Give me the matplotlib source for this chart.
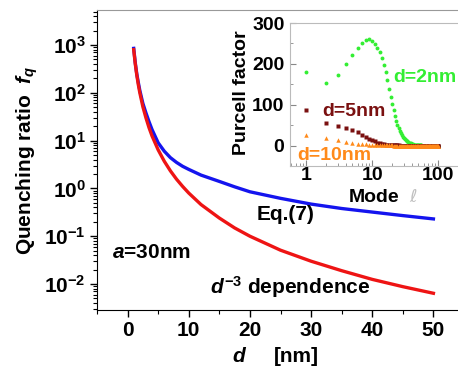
import matplotlib
matplotlib.use("Agg")
import matplotlib.pyplot as plt
from matplotlib.ticker import MultipleLocator, LogLocator, NullFormatter

plt.rcParams['font.family'] = ['Liberation Sans', 'DejaVu Sans']
plt.rcParams['font.weight'] = 'bold'
plt.rcParams['mathtext.fontset'] = 'custom'
plt.rcParams['mathtext.rm'] = 'Liberation Sans:bold'
plt.rcParams['mathtext.it'] = 'Liberation Sans:italic:bold'
plt.rcParams['mathtext.bf'] = 'Liberation Sans:bold'

# main plot: quenching ratio vs distance d (nm)
d_nm = [1, 1.25, 1.5, 1.75, 2, 2.5, 3, 3.5, 4, 5, 6, 7, 8, 9, 10, 12, 15,
        17.5, 20, 25, 30, 35, 40, 45, 50]
fq_eq7 = [850, 430, 250, 165, 112, 60, 38, 25, 17, 9.0, 6.0, 4.4, 3.5, 2.9,
          2.5, 1.9, 1.4, 1.08, 0.85, 0.62, 0.47, 0.38, 0.32, 0.27, 0.23]
fq_d3 = [800, 410, 237, 149, 100, 51, 30, 18.7, 12.5, 6.4, 3.7, 2.33, 1.56,
         1.10, 0.80, 0.46, 0.24, 0.149, 0.10, 0.051, 0.030, 0.019, 0.0125,
         0.0088, 0.0064]

# inset: Purcell factor vs mode l
mode_l = list(range(1, 101))
purcell_2nm = [179, 153, 172, 199, 222, 240, 252, 259, 260, 256,
               248, 238, 228, 214, 198, 180, 160, 139, 120, 102,
               86, 72, 60, 50, 42, 36, 31, 26, 22, 19,
               16, 14, 12, 10.5, 9, 7.5, 6.5, 5.5, 4.5, 3.8,
               3.2, 2.6, 2.2, 1.8, 1.5, 1.2, 1.0, 0.8, 0.6, 0.5,
               0.4, 0.3, 0.3, 0.2, 0.2, 0.1, 0.1, 0.1, 0, 0,
               0, 0, 0, 0, 0, 0, 0, 0, 0, 0,
               0, 0, 0, 0, 0, 0, 0, 0, 0, 0,
               0, 0, 0, 0, 0, 0, 0, 0, 0, 0,
               0, 0, 0, 0, 0, 0, 0, 0, 0, 0]
purcell_5nm = [87, 55, 49, 43, 39, 32, 27, 21, 17, 13,
               10, 7.5, 5.5, 4, 3, 2.2, 1.6, 1.2, 0.9, 0.7,
               0.5, 0.4, 0.3, 0.2, 0.2, 0.1, 0.1, 0, 0, 0,
               0, 0, 0, 0, 0, 0, 0, 0, 0, 0,
               0, 0, 0, 0, 0, 0, 0, 0, 0, 0,
               0, 0, 0, 0, 0, 0, 0, 0, 0, 0,
               0, 0, 0, 0, 0, 0, 0, 0, 0, 0,
               0, 0, 0, 0, 0, 0, 0, 0, 0, 0,
               0, 0, 0, 0, 0, 0, 0, 0, 0, 0,
               0, 0, 0, 0, 0, 0, 0, 0, 0, 0]
purcell_10nm = [27, 19, 13, 9, 7, 5, 4, 3.2, 2.6, 2,
                1.6, 1.3, 1, 0.8, 0.6, 0.5, 0.4, 0.3, 0.2, 0.2,
                0.1, 0.1, 0, 0, 0, 0, 0, 0, 0, 0,
                0, 0, 0, 0, 0, 0, 0, 0, 0, 0,
                0, 0, 0, 0, 0, 0, 0, 0, 0, 0,
                0, 0, 0, 0, 0, 0, 0, 0, 0, 0,
                0, 0, 0, 0, 0, 0, 0, 0, 0, 0,
                0, 0, 0, 0, 0, 0, 0, 0, 0, 0,
                0, 0, 0, 0, 0, 0, 0, 0, 0, 0,
                0, 0, 0, 0, 0, 0, 0, 0, 0, 0]

W, H = 458, 368
fig = plt.figure(figsize=(W / 100, H / 100), dpi=100)


def fpos(x, y):
  return x / W, 1 - y / H


# ---- main axes ----
ax = fig.add_axes([97 / W, (H - 310) / H, 367 / W, 300 / H])
ax.plot(d_nm, fq_eq7, color='#1414ee', lw=2.4)
ax.plot(d_nm, fq_d3, color='#ee1414', lw=2.4)
ax.set_yscale('log')
ax.set_xlim(-5, 55)
ax.set_ylim(2.86e-3, 5.4e3)
ax.set_xticks([0, 10, 20, 30, 40, 50])
ax.xaxis.set_minor_locator(MultipleLocator(5))
ax.set_yticks([1e-2, 1e-1, 1e0, 1e1, 1e2, 1e3])
ax.set_yticklabels([r'$\mathbf{10^{-2}}$', r'$\mathbf{10^{-1}}$', r'$\mathbf{10^{0}}$',
                    r'$\mathbf{10^{1}}$', r'$\mathbf{10^{2}}$', r'$\mathbf{10^{3}}$'])
ax.yaxis.set_minor_locator(LogLocator(base=10, subs=range(2, 10), numticks=20))
ax.yaxis.set_minor_formatter(NullFormatter())
ax.tick_params(axis='both', which='major', direction='out', length=5, width=1,
               labelsize=15, pad=3)
ax.tick_params(axis='both', which='minor', direction='out', length=3, width=0.8)
ax.spines['top'].set_color('#999999')
ax.spines['right'].set_visible(False)

fig.text(*fpos(27, 160), r'Quenching ratio  $f_q$', rotation=90, fontsize=15,
         ha='center', va='center')
fig.text(*fpos(240, 356), r'$d$', fontsize=15, ha='center', va='center')
fig.text(*fpos(296, 356), '[nm]', fontsize=15, ha='center', va='center')
fig.text(*fpos(112, 252), r'$a$=30nm', fontsize=15, ha='left', va='center')
fig.text(*fpos(257, 215), 'Eq.(7)', fontsize=15, ha='left', va='center')
fig.text(*fpos(210, 287), r'$d^{-3}$ dependence', fontsize=15, ha='left', va='center')

# ---- inset ----
axi = fig.add_axes([290 / W, (H - 166) / H, 171 / W, 143 / H])
axi.plot(mode_l, purcell_2nm, 'o', color='#33ee33', ms=2.8, mec='none')
axi.plot(mode_l, purcell_5nm, 's', color='#7a1010', ms=2.6, mec='none')
axi.plot(mode_l, purcell_10nm, '^', color='#ff8a1a', ms=3.2, mec='none')
axi.set_xscale('log')
axi.set_xlim(0.57, 220)
axi.set_ylim(-50, 300)
axi.set_xticks([1, 10, 100])
axi.set_xticklabels(['1', '10', '100'])
axi.set_yticks([0, 100, 200, 300])
axi.yaxis.set_minor_locator(MultipleLocator(50))
axi.tick_params(axis='both', which='major', direction='in', length=4, width=0.8,
                color='#888888', labelsize=14, pad=4)
axi.tick_params(axis='x', which='major', pad=1)
axi.tick_params(axis='both', which='minor', direction='in', length=2, width=0.6,
                color='#888888')
for sp in axi.spines.values():
  sp.set_color('#bbbbbb')

fig.text(*fpos(242, 93), 'Purcell factor', rotation=90, fontsize=14,
         ha='center', va='center')
fig.text(*fpos(349, 197), 'Mode', fontsize=14, ha='left', va='center')
fig.text(*fpos(409, 197), '\u2113', fontsize=13, ha='left', va='center',
         color='#c0c0c0', fontweight='normal', family=['DejaVu Sans'])
fig.text(*fpos(393, 77), 'd=2nm', fontsize=14, color='#33ee33', ha='left', va='center')
fig.text(*fpos(322, 112), 'd=5nm', fontsize=14, color='#7a1010', ha='left', va='center')
fig.text(*fpos(297, 155), 'd=10nm', fontsize=14, color='#ff8a1a', ha='left', va='center')

fig.savefig('out.png', dpi=100)
